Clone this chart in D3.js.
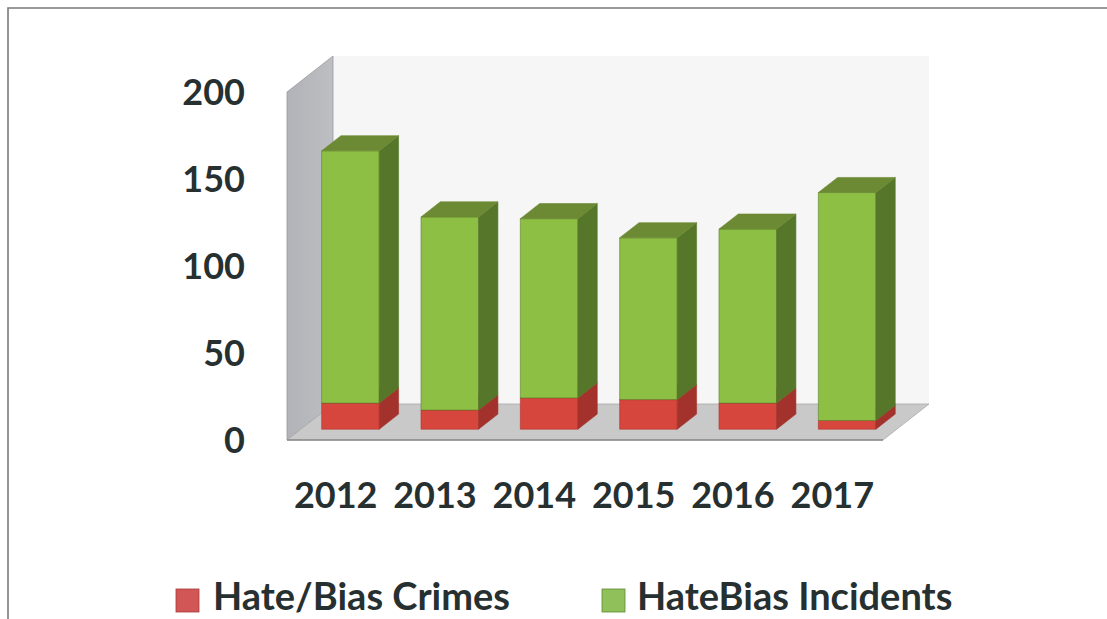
<!DOCTYPE html>
<html>
<head>
<meta charset="utf-8">
<script src="https://cdn.jsdelivr.net/npm/d3@7"></script>
<style>
  html, body { margin: 0; padding: 0; background: #ffffff; }
  svg { display: block; }
  text { font-family: Lato, "Open Sans", sans-serif; font-weight: 700; fill: #273030; }
</style>
</head>
<body>
<svg id="chart" width="1107" height="619"></svg>
<script>
// Reported counts per year
const years = ["2012", "2013", "2014", "2015", "2016", "2017"];
const crimes = [15, 11, 18, 17, 15, 5];
const incidents = [145, 111, 103, 93, 100, 131];
const seriesNames = ["Hate/Bias Crimes", "HateBias Incidents"];
const yTicks = [0, 50, 100, 150, 200];

const svg = d3.select("#chart");
const W = 1107, H = 619;

// Chart frame (open on the right and bottom edges)
svg.append("path")
  .attr("d", `M8,${H + 2}V8H${W + 2}`)
  .attr("fill", "none")
  .attr("stroke", "#7a7a7a")
  .attr("stroke-width", 1.6);

// Oblique projection: depth moves up and to the right
const DX = 46, DY = 36;
const x = d3.scaleBand().domain(years).range([287, 883]).paddingInner(0.42).paddingOuter(0.21);
const y = d3.scaleLinear().domain([0, 200]).range([440, 92]);
const P = (px, v, d) => [px + d * DX, y(v) - d * DY];
const poly = pts => "M" + pts.map(p => p.join(",")).join("L") + "Z";

const defs = svg.append("defs");
const sideGrad = defs.append("linearGradient").attr("id", "sideWall").attr("x1", 0).attr("x2", 1).attr("y1", 0).attr("y2", 0);
sideGrad.append("stop").attr("offset", "0%").attr("stop-color", "#b2b3b8");
sideGrad.append("stop").attr("offset", "100%").attr("stop-color", "#bdbec2");

const x0 = x.range()[0], x1 = x.range()[1];
const [ymin, ymax] = y.domain();

// Back wall
svg.append("path")
  .attr("d", poly([P(x0, ymin, 1), P(x1, ymin, 1), P(x1, ymax, 1), P(x0, ymax, 1)]))
  .attr("fill", "#f6f6f6");

// Side wall
svg.append("path")
  .attr("d", poly([P(x0, ymin, 0), P(x0, ymax, 0), P(x0, ymax, 1), P(x0, ymin, 1)]))
  .attr("fill", "url(#sideWall)")
  .attr("stroke", "#9a9ba0")
  .attr("stroke-width", 0.8);

// Floor
svg.append("path")
  .attr("d", poly([P(x0, ymin, 0), P(x1, ymin, 0), P(x1, ymin, 1), P(x0, ymin, 1)]))
  .attr("fill", "#c9c9c9")
  .attr("stroke", "#a9a9a9")
  .attr("stroke-width", 0.8);
svg.append("line")
  .attr("x1", x0).attr("x2", x1)
  .attr("y1", y(0)).attr("y2", y(0))
  .attr("stroke", "#8a8a8a").attr("stroke-width", 1.4);

// Stacked bars
const table = years.map((yr, i) => ({ year: yr, crimes: crimes[i], incidents: incidents[i] }));
const stack = d3.stack().keys(["crimes", "incidents"])(table);
const faces = {
  crimes:    { front: "#d6463d", side: "#a2322b", top: "#b83a33", stroke: "#b1352e" },
  incidents: { front: "#8dbf44", side: "#56772a", top: "#6c8a33", stroke: "#5d7f2b" }
};
const dFront = 0.3, dBack = 0.72;

const barG = svg.append("g");
years.forEach((yr, i) => {
  stack.forEach(layer => {
    const [lo, hi] = layer[i];
    const c = faces[layer.key];
    const xl = x(yr), xr = x(yr) + x.bandwidth();
    const g = barG.append("g");
    g.append("path")
      .attr("d", poly([P(xl, lo, dFront), P(xr, lo, dFront), P(xr, hi, dFront), P(xl, hi, dFront)]))
      .attr("fill", c.front).attr("stroke", c.stroke).attr("stroke-width", 0.6);
    g.append("path")
      .attr("d", poly([P(xr, lo, dFront), P(xr, lo, dBack), P(xr, hi, dBack), P(xr, hi, dFront)]))
      .attr("fill", c.side).attr("stroke", c.side).attr("stroke-width", 0.6);
    g.append("path")
      .attr("d", poly([P(xl, hi, dFront), P(xr, hi, dFront), P(xr, hi, dBack), P(xl, hi, dBack)]))
      .attr("fill", c.top).attr("stroke", c.top).attr("stroke-width", 0.6);
  });
});

// Value axis labels
svg.append("g")
  .selectAll("text")
  .data(yTicks)
  .join("text")
  .attr("x", 245)
  .attr("y", d => y(d))
  .attr("dy", "0.35em")
  .attr("text-anchor", "end")
  .attr("font-size", 36)
  .text(d => d);

// Category labels
svg.append("g")
  .selectAll("text")
  .data(years)
  .join("text")
  .attr("x", d => x(d) + x.bandwidth() / 2 - 1)
  .attr("y", 508)
  .attr("text-anchor", "middle")
  .attr("font-size", 36)
  .text(d => d);

// Legend
const legendItems = [
  { name: seriesNames[0], color: "#d25656", stroke: "#a83a3a", sx: 176, tx: 213 },
  { name: seriesNames[1], color: "#8fc05a", stroke: "#5f8a36", sx: 602, tx: 637 }
];
const lg = svg.append("g");
legendItems.forEach(it => {
  lg.append("rect")
    .attr("x", it.sx).attr("y", 589)
    .attr("width", 23).attr("height", 23)
    .attr("fill", it.color).attr("stroke", it.stroke).attr("stroke-width", 0.8);
  lg.append("text")
    .attr("x", it.tx).attr("y", 610)
    .attr("font-size", 38)
    .text(it.name);
});
</script>
</body>
</html>
